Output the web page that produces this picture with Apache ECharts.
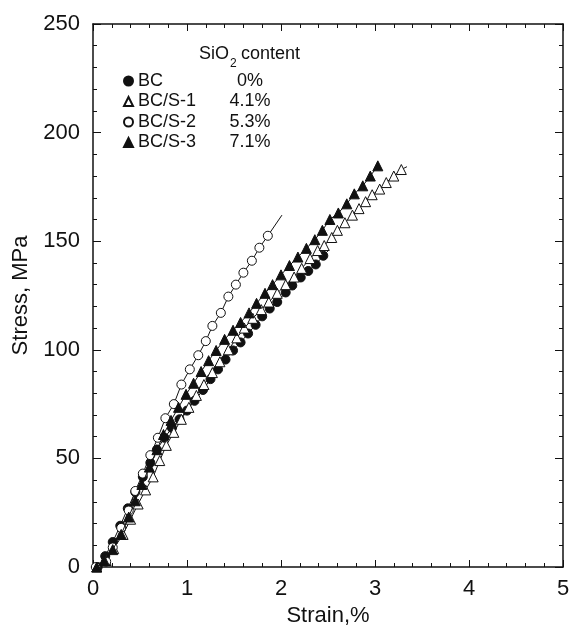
<!DOCTYPE html>
<html>
<head>
<meta charset="utf-8">
<script src="https://cdn.jsdelivr.net/npm/echarts@6/dist/echarts.min.js"></script>
<style>
  html, body { margin: 0; padding: 0; background: #fff; }
  #chart { width: 570px; height: 628px; }
</style>
</head>
<body>
<div id="chart"></div>
<script>
// Stress–strain curves of BC and SiO2-filled BC samples (strain %, stress MPa)
const seriesNames = ['BC', 'BC/S-1', 'BC/S-2', 'BC/S-3'];
const silicaContent = ['0%', '4.1%', '5.3%', '7.1%'];

// Each list: [strain, stress]; the last pair is the curve's end (no marker)
const bcData = [
  [0.05, 0], [0.13, 5], [0.21, 11.5], [0.29, 19], [0.37, 27], [0.45, 34.5],
  [0.53, 41.5], [0.61, 48], [0.68, 54], [0.76, 59.5], [0.84, 64], [0.92, 68],
  [1.00, 72], [1.08, 76.5], [1.17, 81.5], [1.25, 86.5], [1.33, 91], [1.41, 95.5],
  [1.49, 99.7], [1.57, 103.4], [1.65, 107.5], [1.73, 111.5], [1.80, 115.4],
  [1.88, 119], [1.96, 122], [2.05, 126.4], [2.12, 129.6], [2.21, 133.3],
  [2.29, 136.3], [2.37, 139.3], [2.45, 143.3], [2.51, 146]
];
const bcS1Data = [
  [0.04, 0], [0.14, 3], [0.22, 8.5], [0.32, 15], [0.40, 22], [0.48, 29],
  [0.56, 35.5], [0.64, 41.5], [0.71, 49], [0.78, 56], [0.86, 62], [0.94, 68],
  [1.02, 73.5], [1.10, 79], [1.18, 84], [1.27, 89.5], [1.35, 94.5], [1.44, 100],
  [1.53, 105.5], [1.61, 110], [1.70, 114.5], [1.79, 118.5], [1.87, 122],
  [1.96, 126], [2.05, 130], [2.14, 133.5], [2.22, 137.5], [2.31, 142],
  [2.39, 145.7], [2.46, 148], [2.54, 151.7], [2.60, 155], [2.68, 158.5],
  [2.76, 162], [2.83, 165], [2.90, 168.2], [2.97, 171.4], [3.05, 174],
  [3.12, 177], [3.20, 180], [3.28, 183], [3.34, 184.3]
];
const bcS2Data = [
  [0.03, 0], [0.14, 2.5], [0.21, 9], [0.30, 18], [0.38, 26], [0.45, 35],
  [0.53, 43], [0.61, 51.5], [0.69, 59.5], [0.77, 68.5], [0.86, 75], [0.94, 84],
  [1.03, 91], [1.12, 97.5], [1.20, 104], [1.27, 111], [1.36, 117], [1.44, 124.5],
  [1.52, 130], [1.60, 135.5], [1.69, 141], [1.77, 147], [1.86, 152.5], [2.01, 162]
];
const bcS3Data = [
  [0.04, 0], [0.12, 3], [0.21, 8], [0.30, 15], [0.38, 23], [0.45, 30.5],
  [0.52, 38], [0.60, 46], [0.68, 54], [0.75, 61], [0.83, 67.5], [0.91, 73.5],
  [0.99, 79.5], [1.07, 84.6], [1.15, 90], [1.23, 95], [1.31, 99.7], [1.40, 104.8],
  [1.49, 109], [1.57, 112.6], [1.66, 117], [1.74, 121.4], [1.83, 126], [1.91, 130],
  [2.00, 134.5], [2.09, 138.8], [2.18, 142.7], [2.27, 146.7], [2.36, 150.7],
  [2.44, 155], [2.52, 160], [2.61, 163], [2.70, 167.2], [2.78, 171.8],
  [2.87, 175.5], [2.95, 180], [3.03, 184.7]
];

const FONT = '"Liberation Sans", Arial, Helvetica, sans-serif';
const INK = '#111';

const markerStyles = [
  { symbol: 'circle',   fill: INK },
  { symbol: 'triangle', fill: '#fff' },
  { symbol: 'circle',   fill: '#fff' },
  { symbol: 'triangle', fill: INK }
];
const dataSets = [bcData, bcS1Data, bcS2Data, bcS3Data];

// the end pair of each curve is drawn as line only
function withEnd(points, lastMarker) {
  return points.map((p, i) =>
    (i === points.length - 1 && !lastMarker) ? { value: p, symbol: 'none' } : p);
}

const series = seriesNames.map((name, k) => ({
  name: name,
  type: 'line',
  data: withEnd(dataSets[k], k === 3),
  symbol: markerStyles[k].symbol,
  symbolSize: markerStyles[k].symbol === 'triangle' ? 10 : 9,
  showAllSymbol: true,
  lineStyle: { color: INK, width: 1 },
  itemStyle: { color: markerStyles[k].fill, borderColor: INK, borderWidth: 1 },
  emphasis: { disabled: true },
  animation: false,
  z: 3 + k
}));

const axisText = { color: INK, fontFamily: FONT, fontSize: 22 };

// frame axes: ticks point into the plot on all four sides
function frameAxis(extra, tickLen, labelMargin) {
  return Object.assign({
    axisLine: { show: true, onZero: false, lineStyle: { color: INK, width: 1.5 } },
    axisTick: { show: true, inside: true, length: tickLen, lineStyle: { color: INK, width: 1 } },
    minorTick: { show: true, splitNumber: 5, length: 4, lineStyle: { color: INK, width: 1 } },
    axisLabel: labelMargin != null
      ? Object.assign({ inside: false, margin: labelMargin }, axisText)
      : { show: false },
    splitLine: { show: false }
  }, extra);
}

const chart = echarts.init(document.getElementById('chart'), null, { renderer: 'canvas' });
chart.setOption({
  backgroundColor: '#fff',
  animation: false,
  grid: { left: 93, right: 7, top: 24, bottom: 61, outerBoundsMode: 'none', containLabel: false },
  legend: {
    orient: 'vertical',
    left: 118,
    top: 66,
    itemWidth: 9,
    itemHeight: 9,
    itemGap: 0.5,
    selectedMode: false,
    data: seriesNames.map((n, k) => ({ name: n, icon: markerStyles[k].symbol })),
    formatter: function (name) {
      const k = seriesNames.indexOf(name);
      return '{n|' + name + '}{v|' + silicaContent[k] + '}';
    },
    textStyle: {
      color: INK, fontFamily: FONT, fontSize: 18, lineHeight: 20,
      rich: {
        n: { width: 86, fontSize: 18, fontFamily: FONT, color: INK, lineHeight: 20 },
        v: { width: 52, align: 'center', fontSize: 18, fontFamily: FONT, color: INK, lineHeight: 20 }
      }
    }
  },
  graphic: [
    { type: 'text', left: 199, top: 45, style: { text: 'SiO', font: '18px ' + FONT, fill: INK } },
    { type: 'text', left: 230, top: 58, style: { text: '2', font: '12px ' + FONT, fill: INK } },
    { type: 'text', left: 241, top: 45, style: { text: 'content', font: '18px ' + FONT, fill: INK } }
  ],
  xAxis: [
    frameAxis({
      type: 'value', min: 0, max: 5, interval: 1, position: 'bottom',
      name: 'Strain,%', nameLocation: 'middle', nameGap: 38,
      nameTextStyle: axisText
    }, 7, 11),
    frameAxis({ type: 'value', min: 0, max: 5, interval: 1, position: 'top' }, 7, null)
  ],
  yAxis: [
    frameAxis({
      type: 'value', min: 0, max: 250, interval: 50, position: 'left',
      name: 'Stress, MPa', nameLocation: 'middle', nameGap: 60,
      nameTextStyle: axisText
    }, 8, 13),
    frameAxis({ type: 'value', min: 0, max: 250, interval: 50, position: 'right' }, 8, null)
  ],
  series: series
});
</script>
</body>
</html>
